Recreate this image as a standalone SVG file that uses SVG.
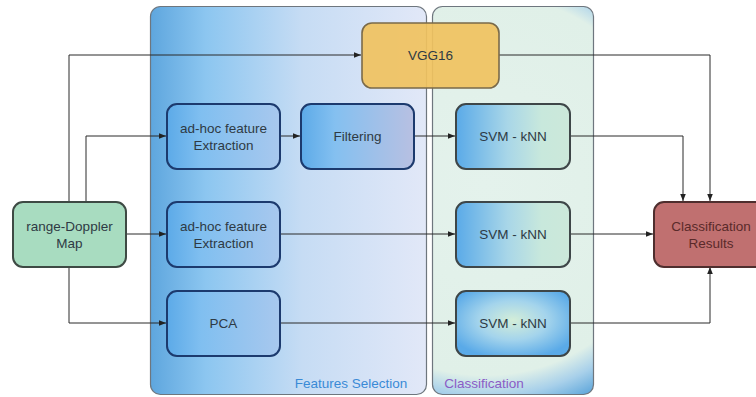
<svg xmlns="http://www.w3.org/2000/svg" width="756" height="397" viewBox="0 0 756 397">
  <defs>
    <linearGradient id="gFeat" x1="0" y1="0" x2="1" y2="0">
      <stop offset="0" stop-color="#5ea6de"/>
      <stop offset="0.2" stop-color="#8cc6f0"/>
      <stop offset="0.55" stop-color="#c6dcf4"/>
      <stop offset="1" stop-color="#e2e8f8"/>
    </linearGradient>
    <radialGradient id="gClass" gradientUnits="userSpaceOnUse" cx="485" cy="185" r="235">
      <stop offset="0" stop-color="#e4f2ec"/>
      <stop offset="0.81" stop-color="#e0f0e8"/>
      <stop offset="0.9" stop-color="#a8d0ea"/>
      <stop offset="1" stop-color="#5aa4da"/>
    </radialGradient>
    <linearGradient id="gFeatNode" x1="0" y1="0" x2="1" y2="0">
      <stop offset="0" stop-color="#5caae8"/>
      <stop offset="0.3" stop-color="#80bff0"/>
      <stop offset="1" stop-color="#a8c8ee"/>
    </linearGradient>
    <linearGradient id="gFilter" x1="0" y1="0" x2="1" y2="0">
      <stop offset="0" stop-color="#5caae8"/>
      <stop offset="0.3" stop-color="#84c0f0"/>
      <stop offset="1" stop-color="#b8c0e2"/>
    </linearGradient>
    <linearGradient id="gSvm" x1="0" y1="0" x2="1" y2="0">
      <stop offset="0" stop-color="#5aaae8"/>
      <stop offset="0.45" stop-color="#a8d6e8"/>
      <stop offset="0.75" stop-color="#c8e8dc"/>
      <stop offset="1" stop-color="#cce8da"/>
    </linearGradient>
    <radialGradient id="gSvmR" cx="0.5" cy="0.45" r="0.6">
      <stop offset="0" stop-color="#d4eed8"/>
      <stop offset="0.5" stop-color="#a4d4ec"/>
      <stop offset="1" stop-color="#5aaae8"/>
    </radialGradient>
    <marker id="arr" viewBox="0 0 10 10" refX="10" refY="5" markerWidth="7" markerHeight="7" orient="auto" markerUnits="userSpaceOnUse">
      <path d="M0,1 L10,5 L0,9 z" fill="#222"/>
    </marker>
    <style>
      .panel { stroke: #6e767e; stroke-width: 1.2; }
      text { font-family: "Liberation Sans", Arial, sans-serif; font-size: 13.5px; text-anchor: middle; }
      .feat { fill: url(#gFeatNode); stroke: #1c3a6e; stroke-width: 2; }
      .svm { stroke: #3e4648; stroke-width: 2; }
      .lbl { fill: #2e3a44; }
      .wire { fill: none; stroke: #2a2a2a; stroke-width: 1; marker-end: url(#arr); }
    </style>
  </defs>

  <rect width="756" height="397" fill="#ffffff"/>

  <!-- stage panels -->
  <g id="panel-features">
    <rect class="panel" x="150.5" y="6.5" width="276" height="388" rx="10" fill="url(#gFeat)"/>
    <text x="351" y="388" fill="#3a8ad6">Features Selection</text>
  </g>
  <g id="panel-classification">
    <rect class="panel" x="432.5" y="6.5" width="161" height="388" rx="10" fill="url(#gClass)"/>
    <text x="484" y="388" fill="#8a5cc6">Classification</text>
  </g>

  <!-- connectors -->
  <g id="connectors">
    <path class="wire" d="M69,201 V55 H361"/>
    <path class="wire" d="M86,201 V136 H166"/>
    <path class="wire" d="M280,136 H300"/>
    <path class="wire" d="M414,136 H455"/>
    <path class="wire" d="M570,136 H683 V201"/>
    <path class="wire" d="M499,55 H710 V201"/>
    <path class="wire" d="M126,234 H166"/>
    <path class="wire" d="M280,234 H455"/>
    <path class="wire" d="M570,234 H653"/>
    <path class="wire" d="M69,268 V323 H166"/>
    <path class="wire" d="M280,323 H455"/>
    <path class="wire" d="M570,323 H710 V267"/>
  </g>

  <!-- nodes -->
  <g id="node-vgg16" class="node">
    <rect x="362" y="23" width="137" height="65" rx="10" fill="#f0c25e" fill-opacity="0.92" stroke="#7a6a4a" stroke-width="1.6"/>
    <text class="lbl" x="430.5" y="60">VGG16</text>
  </g>
  <g id="node-adhoc-1" class="node">
    <rect class="feat" x="167" y="104" width="113" height="65" rx="10"/>
    <text class="lbl" x="223.5" y="133">ad-hoc feature</text>
    <text class="lbl" x="223.5" y="150">Extraction</text>
  </g>
  <g id="node-filtering" class="node">
    <rect x="301" y="104" width="113" height="65" rx="10" fill="url(#gFilter)" stroke="#1c3a6e" stroke-width="2"/>
    <text class="lbl" x="357.5" y="141">Filtering</text>
  </g>
  <g id="node-svm-1" class="node">
    <rect class="svm" x="456" y="104" width="114" height="65" rx="10" fill="url(#gSvm)"/>
    <text class="lbl" x="513" y="141">SVM - kNN</text>
  </g>
  <g id="node-rdmap" class="node">
    <rect x="13" y="202" width="113" height="65" rx="10" fill="#a8dcc0" stroke="#3e4a44" stroke-width="2"/>
    <text class="lbl" x="69.5" y="231">range-Doppler</text>
    <text class="lbl" x="69.5" y="248">Map</text>
  </g>
  <g id="node-adhoc-2" class="node">
    <rect class="feat" x="167" y="202" width="113" height="65" rx="10"/>
    <text class="lbl" x="223.5" y="231">ad-hoc feature</text>
    <text class="lbl" x="223.5" y="248">Extraction</text>
  </g>
  <g id="node-svm-2" class="node">
    <rect class="svm" x="456" y="202" width="114" height="65" rx="10" fill="url(#gSvm)"/>
    <text class="lbl" x="513" y="239">SVM - kNN</text>
  </g>
  <g id="node-results" class="node">
    <rect x="654" y="202" width="114" height="65" rx="10" fill="#c07070" stroke="#4e2e2e" stroke-width="2"/>
    <text x="711" y="231" fill="#5a2a2a">Classification</text>
    <text x="711" y="248" fill="#5a2a2a">Results</text>
  </g>
  <g id="node-pca" class="node">
    <rect class="feat" x="167" y="291" width="113" height="65" rx="10"/>
    <text class="lbl" x="223.5" y="328">PCA</text>
  </g>
  <g id="node-svm-3" class="node">
    <rect class="svm" x="456" y="291" width="114" height="65" rx="10" fill="url(#gSvmR)"/>
    <text class="lbl" x="513" y="328">SVM - kNN</text>
  </g>
</svg>
